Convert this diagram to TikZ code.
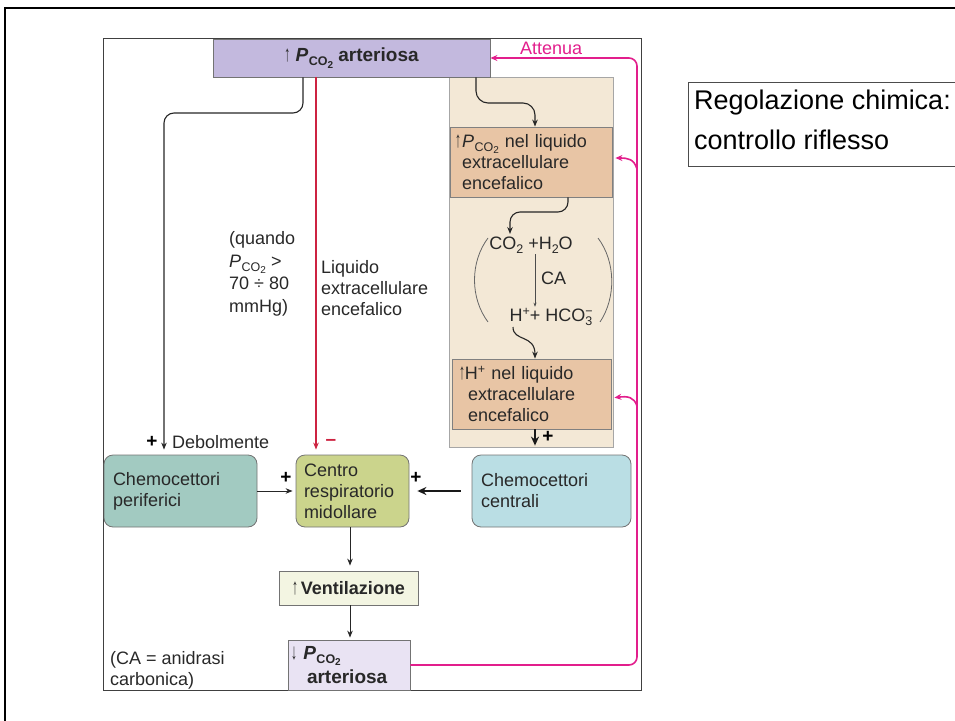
\documentclass[tikz,border=0pt]{standalone}
\usepackage{fontspec}
\setmainfont{Liberation Sans}
\usetikzlibrary{arrows.meta}

\definecolor{figtext}{RGB}{40,40,40}
\definecolor{lavtop}{RGB}{195,185,222}
\definecolor{lavlow}{RGB}{233,227,243}
\definecolor{panelbg}{RGB}{243,232,214}
\definecolor{orng}{RGB}{232,197,165}
\definecolor{tealc}{RGB}{162,202,193}
\definecolor{olive}{RGB}{203,212,140}
\definecolor{lblue}{RGB}{186,222,228}
\definecolor{ventc}{RGB}{243,245,226}
\definecolor{pinkc}{RGB}{226,30,140}
\definecolor{redc}{RGB}{205,35,65}

% small sizes for indices
\newcommand\sizesub{\fontsize{12.5}{12.5}\selectfont}
\newcommand\sizesubsub{\fontsize{10}{10}\selectfont}
\newcommand\lowix[1]{\raisebox{-0.22em}{\sizesub #1}}
\newcommand\highix[1]{\raisebox{0.38em}{\sizesub #1}}
\newcommand\pcotwo{\textit{P}\kern0.5pt\raisebox{-0.2em}{\sizesub CO\raisebox{-0.2em}{\sizesubsub 2}}}
% slim tall arrows
\newcommand\upar{\scalebox{0.85}[1.6]{\fontsize{14}{14}\selectfont\mdseries ↑}}
\newcommand\dnar{\scalebox{0.85}[1.6]{\fontsize{14}{14}\selectfont\mdseries ↓}}

\begin{document}
\begin{tikzpicture}[x=1pt,y=-1pt,
  font=\fontsize{18}{21}\selectfont,
  every node/.append style={text=figtext},
  stdbox/.style={rectangle, line width=0.8pt, inner ysep=0pt, align=left},
  roundbox/.style={stdbox, rounded corners=9pt},
  blkarrow/.style={draw=black!85, line width=1.1pt, -{Stealth[length=7pt,width=5.5pt]}},
  thickarrow/.style={draw=black!90, line width=2.6pt, -{Stealth[length=9pt,width=8pt]}},
  thinarrow/.style={draw=black!70, line width=0.5pt, -{Stealth[length=4pt,width=3pt]}},
  redarrow/.style={draw=redc, line width=1.3pt, -{Stealth[length=7pt,width=5.5pt]}},
  pinkline/.style={draw=pinkc, line width=1.6pt},
  pinkarrow/.style={pinkline, -{Stealth[length=7pt,width=6pt]}},
  plusmark/.style={font=\fontsize{19}{19}\selectfont\bfseries, inner sep=0pt},
  plaintext/.style={inner sep=0pt, align=left, anchor=west}
]
\useasboundingbox (0,0) rectangle (955,720);
\clip (0,0) rectangle (955,720);

% slide frame
\draw[line width=2pt, black] (5,730) -- (5,8) -- (965,8);

% title box
\draw[line width=1pt, black!70] (965,82) -- (688,82) -- (688,166) -- (965,166);
\node[anchor=base west, inner sep=0pt, text=black, font=\fontsize{27}{27}\selectfont] (reg1) at (694,109) {Regolazione chimica:};
\node[anchor=base west, inner sep=0pt, text=black, font=\fontsize{27}{27}\selectfont] (reg2) at (694,149) {controllo riflesso};

% figure frame
\draw[line width=0.9pt, black!75] (103,38) rectangle (641,690);

% column and bend coordinates
\coordinate (xa) at (164,0);
\coordinate (xb) at (303,0);
\coordinate (xr) at (316,0);
\coordinate (xw) at (476,0);
\coordinate (xm) at (535,0);
\coordinate (xv) at (568,0);
\coordinate (xc) at (350,0);
\coordinate (bendL) at (164,113);
\coordinate (bendA) at (535,103);
\coordinate (bendB) at (510,212);
\coordinate (w2end) at (510,234);
\coordinate (w3s) at (513,327);
\coordinate (pcorner) at (637,58);
\coordinate (pb1) at (637,169);
\coordinate (pb2) at (637,406);

% brain panel
\node[rectangle, fill=panelbg, draw=black!35, line width=0.6pt, minimum width=164pt, minimum height=370pt, inner sep=0pt] (panel) at (531,262) {};

% boxes
\node[stdbox, fill=lavtop, draw=black!55, minimum width=277pt, minimum height=38pt, align=center, font=\fontsize{19}{21}\selectfont\bfseries] (top) at (351.5,58) {\upar\ \pcotwo\ arteriosa};

\node[stdbox, fill=orng, draw=black!50, inner xsep=12pt, text width=138pt, minimum height=70pt] (o1) at (531,162)
  {\llap{\upar\kern1pt}\pcotwo\ nel liquido\\extracellulare\\encefalico};

\node[stdbox, fill=orng, draw=black!50, inner xsep=7pt, text width=145pt, minimum height=70pt] (o2) at (531.5,394)
  {\upar H\highix{+} nel liquido\\\hspace*{9pt}extracellulare\\\hspace*{9pt}encefalico};

\node[roundbox, fill=tealc, draw=black!55, inner xsep=9pt, text width=135pt, minimum height=72pt] (per) at (180.5,491)
  {Chemocettori\\periferici};
\node[roundbox, fill=olive, draw=black!55, inner xsep=8pt, text width=97pt, minimum height=72pt] (cen) at (352.5,491)
  {Centro\\respiratorio\\midollare};
\node[roundbox, fill=lblue, draw=black!55, inner xsep=9pt, text width=141pt, minimum height=72pt] (cc) at (551.5,491)
  {Chemocettori\\centrali};

\node[stdbox, fill=ventc, draw=black!55, minimum width=139pt, minimum height=34pt, align=center] (vent) at (348.5,588)
  {\upar\,\textbf{Ventilazione}};
\node[stdbox, fill=lavlow, draw=black!55, inner xsep=3pt, text width=116pt, minimum height=50pt, font=\fontsize{19}{24}\selectfont\bfseries] (low) at (349,665)
  {\dnar\ \pcotwo\\\hspace*{16pt}arteriosa};

% reaction inside the panel
\node[inner sep=1pt] (co2) at (531,245) {CO\lowix{2} +H\lowix{2}O};
\node[plaintext] (ca) at (541,278) {CA};
\node[inner sep=1pt] (hh) at (551,317) {H\highix{+}+ HCO\rlap{\highix{−}}\lowix{3}};
\draw[line width=0.8pt, black!60] (488,238) .. controls (470,262) and (470,298) .. (488,322);
\draw[line width=0.8pt, black!60] (598,238) .. controls (616,262) and (616,298) .. (600,322);

% free texts
\node[plaintext, font=\fontsize{18}{22.5}\selectfont] (quando) at (229,274) {(quando\\\pcotwo\ >\\70 ÷ 80\\mmHg)};
\node[plaintext] (liq) at (321,288) {Liquido\\extracellulare\\encefalico};
\node[plaintext] (debol) at (172,442) {Debolmente};
\node[plaintext] (note) at (110,670) {(CA = anidrasi\\carbonica)};
\node[plaintext, text=pinkc] (att) at (520,48) {Attenua};

% signs
\node[plusmark, text=black] (p1) at (152,442) {+};
\node[plusmark, text=redc] (m1) at (331,442) {–};
\node[plusmark, text=black] (p2) at (286,478) {+};
\node[plusmark, text=black] (p3) at (416,478) {+};
\node[plusmark, text=black] (p4) at (548,437) {+};

% connectors
\draw[blkarrow, rounded corners=10pt, shorten >=5pt] (xb |- top.south) |- (bendL) -- (xa |- per.north);
\draw[redarrow, shorten >=5pt] (xr |- top.south) -- (xr |- cen.north);
\draw[blkarrow, rounded corners=12pt] (xw |- top.south) |- (bendA) -- (xm |- o1.north);
\draw[blkarrow, rounded corners=10pt] (xv |- o1.south) |- (bendB) -- (w2end);
\draw[thinarrow] (xm |- co2.south) -- (xm |- hh.north);
\draw[blkarrow] (w3s) .. controls (513,342) and (535,334) .. (xm |- o2.north);
\draw[thickarrow, shorten >=9pt] (xm |- o2.south) -- (xm |- cc.north);
\draw[blkarrow, line width=1pt, shorten >=3pt] (per.east) -- (cen.west);
\draw[thickarrow, line width=2.4pt, shorten <=11pt, shorten >=8pt] (cc.west) -- (cen.east);
\draw[blkarrow, line width=1pt, shorten >=5pt] (xc |- cen.south) -- (xc |- vent.north);
\draw[blkarrow, line width=1pt, shorten >=2pt] (xc |- vent.south) -- (xc |- low.north);

% feedback loop
\draw[pinkarrow, rounded corners=8pt] (low.east) -| (pcorner) -- (top.east);
\draw[pinkarrow, shorten >=3pt] (pb1) .. controls (634,159) and (628,158) .. ([yshift=4pt]o1.east);
\draw[pinkarrow, shorten >=3pt] (pb2) .. controls (634,397) and (628,396) .. ([yshift=-4pt]o2.east);
\end{tikzpicture}
\end{document}
